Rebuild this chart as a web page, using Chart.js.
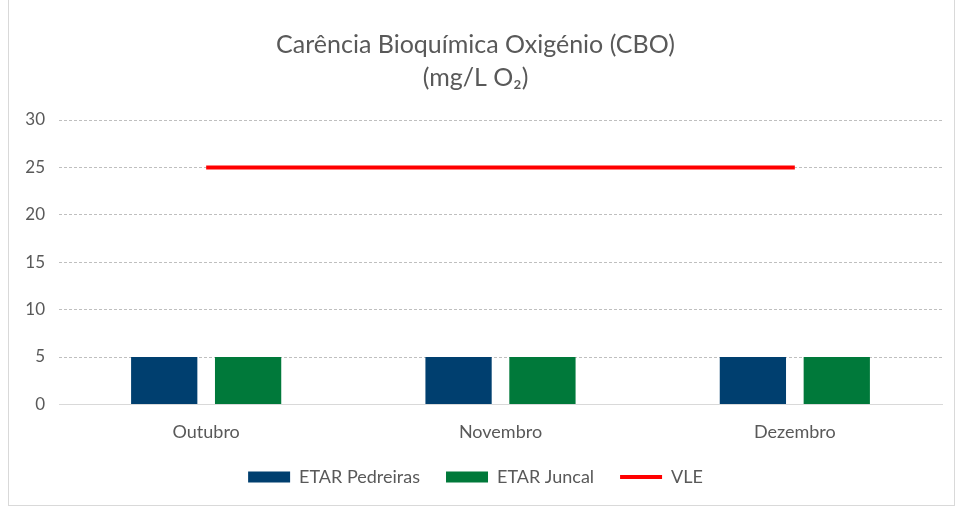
<!DOCTYPE html>
<html>
<head>
<meta charset="utf-8">
<script src="https://cdn.jsdelivr.net/npm/chart.js@4"></script>
<style>
  body { margin: 0; background: #ffffff; }
  #box {
    position: absolute; left: 8px; top: -1px;
    width: 945px; height: 505px;
    border: 1px solid #d9d9d9; background: #ffffff;
  }
</style>
</head>
<body>
<div id="box"><canvas id="chart" width="945" height="505"></canvas></div>
<script>
// months on the x axis
const months = ["Outubro", "Novembro", "Dezembro"];

// measured values (mg/L O2)
const pedreiras = [5, 5, 5];
const juncal = [5, 5, 5];

// limit value (VLE)
const vle = [25, 25, 25];

const TEXT_COLOR = "#595959";
const FONT = "Lato, 'Open Sans', sans-serif";

const canvas = document.getElementById("chart");

new Chart(canvas, {
  type: "bar",
  data: {
    labels: months,
    datasets: [
      {
        label: "ETAR Pedreiras",
        data: pedreiras,
        backgroundColor: "#003f6f",
        categoryPercentage: 0.57,
        barPercentage: 0.79,
        order: 2,
      },
      {
        label: "ETAR Juncal",
        data: juncal,
        backgroundColor: "#00793a",
        categoryPercentage: 0.57,
        barPercentage: 0.79,
        order: 2,
      },
      {
        type: "line",
        label: "VLE",
        data: vle,
        borderColor: "#ff0000",
        backgroundColor: "#ff0000",
        borderWidth: 4,
        pointRadius: 0,
        fill: false,
        order: 1,
      },
    ],
  },
  options: {
    responsive: false,
    animation: false,
    layout: { padding: { left: 0, right: 12, top: 12, bottom: 9 } },
    plugins: {
      title: {
        display: true,
        text: ["Carência Bioquímica Oxigénio (CBO)", "(mg/L O₂)"],
        color: TEXT_COLOR,
        font: { family: FONT, size: 25, weight: "normal", lineHeight: 1.3 },
        padding: { top: 17, bottom: 26 },
      },
      legend: {
        position: "bottom",
        labels: {
          color: TEXT_COLOR,
          font: { family: FONT, size: 18 },
          usePointStyle: true,
          pointStyleWidth: 42,
          boxHeight: 11,
          padding: 26,
          sort: (a, b) => a.datasetIndex - b.datasetIndex,
          // bars get a filled box, VLE gets a short red line
          generateLabels: (chart) => {
            const items = Chart.defaults.plugins.legend.labels.generateLabels(chart);
            return items.map((item) => {
              if (item.text === "VLE") {
                item.pointStyle = "line";
                item.lineWidth = 4;
                item.strokeStyle = "#ff0000";
              } else {
                item.pointStyle = "rect";
                item.lineWidth = 0;
              }
              return item;
            });
          },
        },
      },
      tooltip: { enabled: false },
    },
    scales: {
      x: {
        grid: { display: false },
        border: { color: "#d9d9d9", width: 1 },
        ticks: { color: TEXT_COLOR, font: { family: FONT, size: 18 }, padding: 9 },
        // shrink the axis box a bit so the legend sits closer to the labels
        afterFit: (scale) => { scale.height = scale.height - 10; },
      },
      y: {
        min: 0,
        max: 30,
        ticks: {
          stepSize: 5,
          color: TEXT_COLOR,
          font: { family: FONT, size: 17 },
          padding: 14,
        },
        grid: { color: "#bfbfbf", drawTicks: false },
        border: { display: false, dash: [3, 2] },
        afterFit: (scale) => { scale.width = 50; },
      },
    },
  },
});
</script>
</body>
</html>
